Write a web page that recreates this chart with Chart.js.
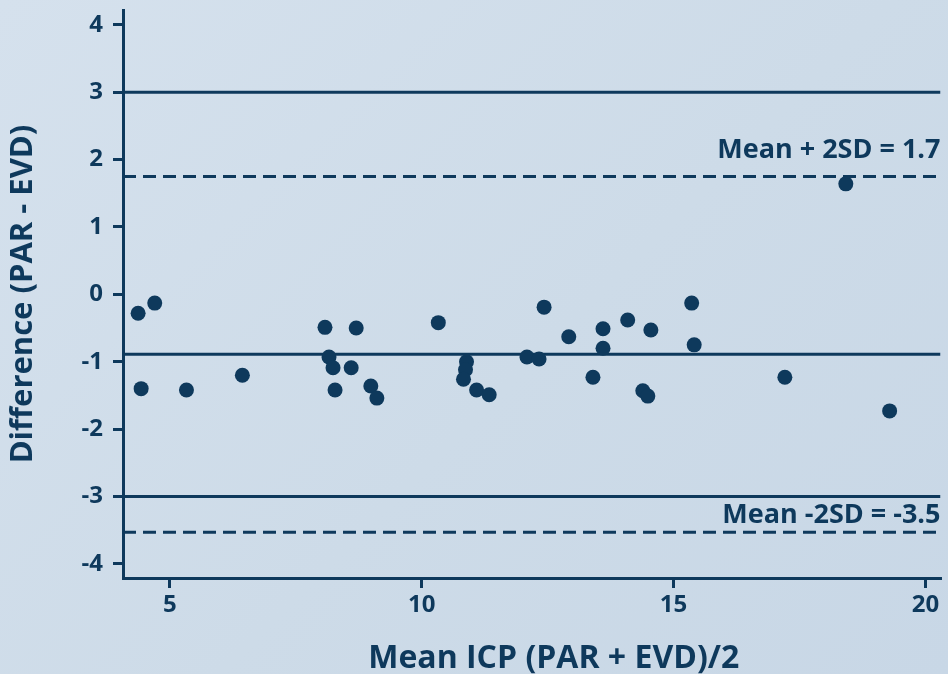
<!DOCTYPE html>
<html>
<head>
<meta charset="utf-8">
<script src="https://cdn.jsdelivr.net/npm/chart.js@4/dist/chart.umd.min.js"></script>
<style>
    html, body { margin: 0; padding: 0; }
    body {
        width: 948px;
        height: 674px;
        overflow: hidden;
        background: linear-gradient(135deg, #d5e1ed 0%, #cddbe8 55%, #c8d7e6 100%);
    }
</style>
</head>
<body>
<canvas id="chart" width="948" height="674"></canvas>
<script>
// Bland-Altman data: mean of PAR and EVD vs their difference
const meanIcp = [4.37, 4.70, 4.43, 5.33, 6.44, 8.08, 8.16, 8.24, 8.28, 8.70, 8.60, 8.99, 9.11,
    10.33, 10.89, 10.87, 10.83, 11.09, 11.34, 12.09, 12.33, 12.43, 12.92, 13.40, 13.60, 13.60,
    14.09, 14.39, 14.49, 14.55, 15.36, 15.41, 17.21, 18.42, 19.29];
const diffIcp = [-0.28, -0.13, -1.40, -1.42, -1.20, -0.49, -0.93, -1.09, -1.42, -0.50, -1.09, -1.36, -1.54,
    -0.42, -1.00, -1.12, -1.26, -1.42, -1.49, -0.93, -0.96, -0.19, -0.63, -1.23, -0.51, -0.80,
    -0.38, -1.43, -1.51, -0.53, -0.13, -0.75, -1.23, 1.64, -1.73];

const meanDiff = -0.89;
const upperLimit = 1.75;
const lowerLimit = -3.53;
const refLines = [3, -3];

const xTicks = [5, 10, 15, 20];
const yTicks = [-4, -3, -2, -1, 0, 1, 2, 3, 4];
const xRange = [4.07, 20.3];
const yRange = [-4.21, 4.22];

const upperLabel = 'Mean + 2SD = 1.7';
const lowerLabel = 'Mean -2SD = -3.5';
const xTitle = 'Mean ICP (PAR + EVD)/2';
const yTitle = 'Difference (PAR - EVD)';

const navy = '#0e395c';
const fontFamily = "'Open Sans', 'DejaVu Sans', sans-serif";

// horizontal line across the full x range
function hLine(y, dashed) {
    return {
        data: [{x: xRange[0], y: y}, {x: xRange[1], y: y}],
        showLine: true,
        borderColor: navy,
        borderWidth: 3,
        borderDash: dashed ? [13, 7] : [],
        pointRadius: 0,
        fill: false
    };
}

// labels for the limits of agreement and the x title
const labelPlugin = {
    id: 'labels',
    afterDraw: function (chart) {
        const ctx = chart.ctx;
        const area = chart.chartArea;
        const y = chart.scales.y;
        ctx.save();
        ctx.fillStyle = navy;
        ctx.font = 'bold 27px ' + fontFamily;
        ctx.textAlign = 'right';
        ctx.textBaseline = 'alphabetic';
        ctx.fillText(upperLabel, area.right, y.getPixelForValue(upperLimit) - 18);
        ctx.fillText(lowerLabel, area.right, y.getPixelForValue(lowerLimit) - 9);

        ctx.font = 'bold 32px ' + fontFamily;
        ctx.textAlign = 'center';
        ctx.fillText(xTitle, (area.left + area.right) / 2 + 22, 668);
        ctx.restore();
    }
};

const datasets = [
    {
        data: meanIcp.map((x, i) => ({x: x, y: diffIcp[i]})),
        backgroundColor: navy,
        borderWidth: 0,
        pointRadius: 7.5,
        pointHoverRadius: 7.5
    },
    hLine(refLines[0], false),
    hLine(upperLimit, true),
    hLine(meanDiff, false),
    hLine(lowerLimit, true),
    hLine(refLines[1], false)
];

Chart.defaults.font.family = fontFamily;

new Chart(document.getElementById('chart').getContext('2d'), {
    type: 'scatter',
    data: {datasets: datasets},
    plugins: [labelPlugin],
    options: {
        responsive: false,
        animation: false,
        layout: {padding: {top: 10, right: 3}},
        plugins: {
            legend: {display: false},
            tooltip: {enabled: false}
        },
        scales: {
            x: {
                type: 'linear',
                min: xRange[0],
                max: xRange[1],
                afterBuildTicks: function (scale) {
                    scale.ticks = xTicks.map(v => ({value: v}));
                },
                afterFit: function (scale) {
                    scale.height = 96;
                    scale.paddingLeft = 0;
                    scale.paddingRight = 0;
                },
                grid: {
                    drawOnChartArea: false,
                    drawTicks: true,
                    tickLength: 10,
                    color: navy,
                    lineWidth: 3
                },
                border: {color: navy, width: 3},
                ticks: {
                    color: navy,
                    padding: 3,
                    font: {size: 24, weight: 'bold'}
                }
            },
            y: {
                type: 'linear',
                min: yRange[0],
                max: yRange[1],
                afterBuildTicks: function (scale) {
                    scale.ticks = yTicks.map(v => ({value: v}));
                },
                afterFit: function (scale) {
                    scale.width = 123;
                    scale.paddingTop = 0;
                    scale.paddingBottom = 0;
                },
                grid: {
                    drawOnChartArea: false,
                    drawTicks: true,
                    tickLength: 10,
                    color: navy,
                    lineWidth: 3
                },
                border: {color: navy, width: 3},
                ticks: {
                    color: navy,
                    padding: 10,
                    font: {size: 24, weight: 'bold'}
                },
                title: {
                    display: true,
                    text: yTitle,
                    color: navy,
                    padding: {top: 5, bottom: 0},
                    font: {size: 31, weight: 'bold'}
                }
            }
        }
    }
});
</script>
</body>
</html>
